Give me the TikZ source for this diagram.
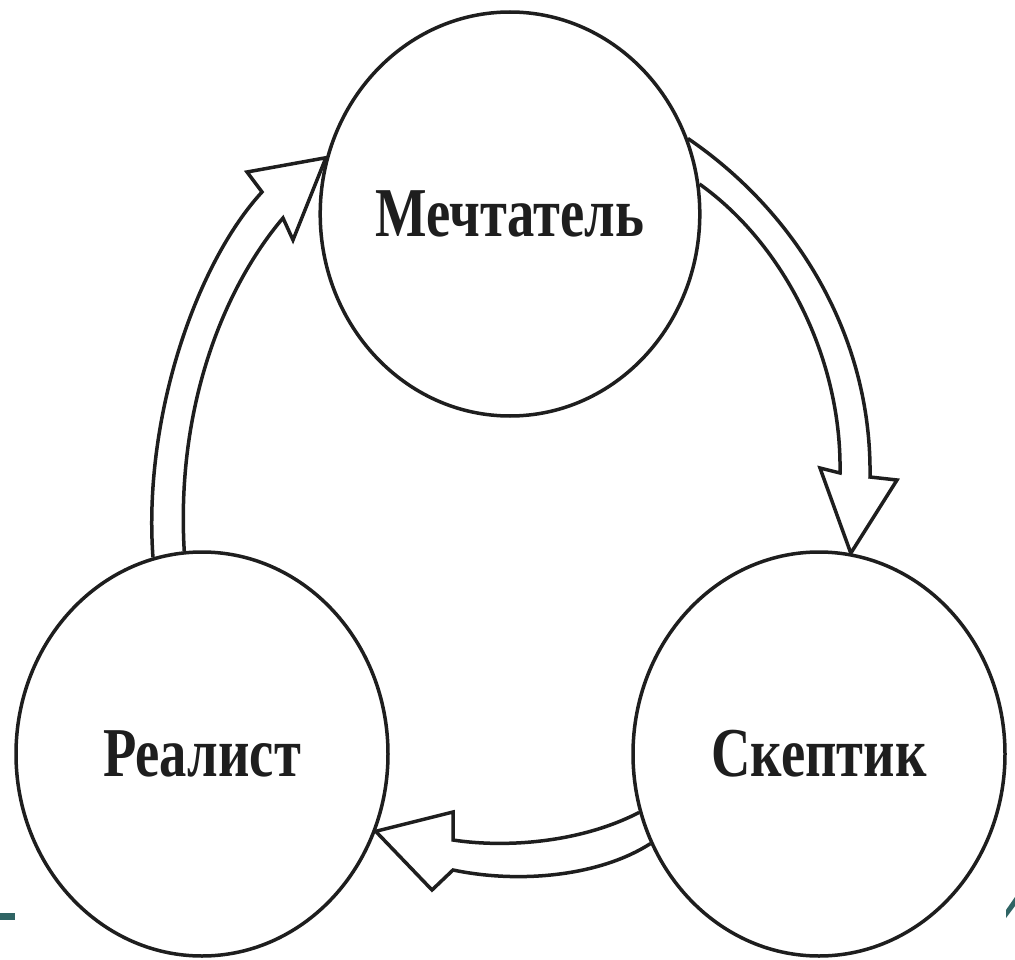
\documentclass[tikz,border=0pt]{standalone}
\usepackage{fontspec}
\setmainfont{Liberation Serif}
\usetikzlibrary{shapes.geometric,backgrounds}
\definecolor{ink}{HTML}{1E1E1E}
\definecolor{teal}{HTML}{2F6464}
\begin{document}
\begin{tikzpicture}[x=1pt,y=-1pt,line join=round,line cap=round,
  role/.style={ellipse,draw=ink,line width=3.5pt,fill=white,
    minimum width=372pt,minimum height=404pt,inner sep=0pt,
    font=\fontsize{70}{80}\selectfont\bfseries,text=ink},
  cyclearrow/.style={draw=ink,line width=3.5pt,fill=white}]
\useasboundingbox (0,0) rectangle (1015,960);
\node[role] (M) at (510,214) {\scalebox{0.78}[1]{Мечтатель}};
\node[role] (R) at (202,754) {\scalebox{0.78}[1]{Реалист}};
\node[role] (S) at (819,754) {\scalebox{0.78}[1]{Скептик}};
\begin{scope}[on background layer]
% Realist -> Mechtatel
\draw[cyclearrow] (R.104) .. controls (143,420) and (195,265) .. (262,192)
  -- (247,172) -- (M.163) -- (293,240) -- (283,218)
  .. controls (222,290) and (176,410) .. (R.95);
% Mechtatel -> Skeptik
\draw[cyclearrow] (M.23) .. controls (800,215) and (872,340) .. (870,477)
  -- (897,480) -- (S.81) -- (820,468) -- (840,473)
  .. controls (842,360) and (785,245) .. (M.9);
% Skeptik -> Realist
\draw[cyclearrow] (S.198) .. controls (580,843) and (505,848) .. (453,840)
  -- (453,812) -- (R.-24) -- (432,890) -- (453,870)
  .. controls (520,884) and (600,876) .. (S.208);
\end{scope}
% slide decorations
\fill[teal] (0,913) rectangle (15,920);
\fill[teal] (1006,918) -- (1006,910) -- (1015,897) -- (1015,906) -- cycle;
\end{tikzpicture}
\end{document}
